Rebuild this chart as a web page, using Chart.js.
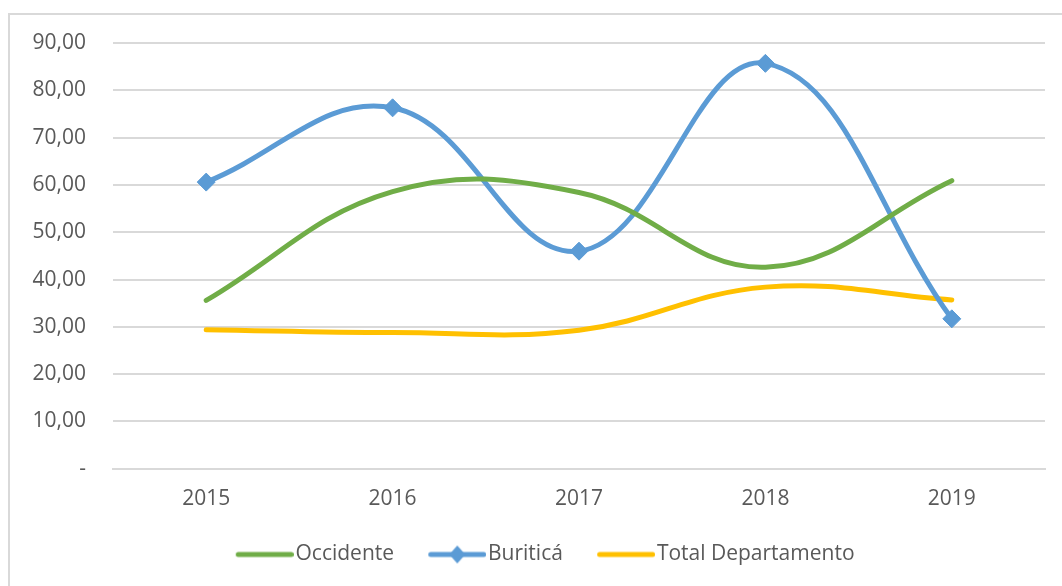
<!DOCTYPE html>
<html>
<head>
<meta charset="utf-8">
<script src="https://cdn.jsdelivr.net/npm/chart.js@4.4.1/dist/chart.umd.min.js"></script>
<style>
  html, body { margin: 0; padding: 0; background: #ffffff; }
  #wrap { position: relative; width: 1062px; height: 586px; }
</style>
</head>
<body>
<div id="wrap"><canvas id="c" width="1062" height="586"></canvas></div>
<script>
const categories = ['2015', '2016', '2017', '2018', '2019'];
const occidente = [35.6, 58.6, 58.4, 42.6, 60.9];
const buritica = [60.6, 76.3, 46.0, 85.7, 31.7];
const totalDepartamento = [29.4, 28.8, 29.3, 38.4, 35.7];
const seriesNames = ['Occidente', 'Buriticá', 'Total Departamento'];
const yTicks = [0, 10, 20, 30, 40, 50, 60, 70, 80, 90];

const GREEN = '#70AD47', BLUE = '#5B9BD5', YELLOW = '#FFC000';
const FONT = "'Open Sans', 'Liberation Sans', sans-serif";
const PSW = 82.5;          // legend box width used by Chart.js
const ICON_W = PSW + 18;   // icon image width (centred on box)

function legendIcon(color, diamond) {
  const c = document.createElement('canvas');
  c.width = ICON_W; c.height = 22;
  const g = c.getContext('2d');
  g.strokeStyle = color; g.lineWidth = 5; g.lineCap = 'round';
  const x0 = PSW - 40.5 + 2.5, x1 = PSW + 17.5 - 2.5;
  g.beginPath(); g.moveTo(x0, 11); g.lineTo(x1, 11); g.stroke();
  if (diamond) {
    const cx = (x0 + x1) / 2;
    g.fillStyle = color;
    g.beginPath(); g.moveTo(cx, 2); g.lineTo(cx + 8, 11); g.lineTo(cx, 20); g.lineTo(cx - 8, 11); g.closePath(); g.fill();
  }
  return c;
}

const borderPlugin = {
  id: 'frame',
  beforeDraw(chart) {
    const ctx = chart.ctx;
    ctx.save();
    ctx.strokeStyle = '#D9D9D9';
    ctx.lineWidth = 2;
    ctx.beginPath();
    ctx.moveTo(9, 586); ctx.lineTo(9, 14); ctx.lineTo(1062, 14);
    ctx.stroke();
    ctx.restore();
  }
};

new Chart(document.getElementById('c'), {
  type: 'line',
  data: {
    labels: categories,
    datasets: [
      { label: seriesNames[0], data: occidente, borderColor: GREEN, backgroundColor: GREEN,
        borderWidth: 5, pointRadius: 0, pointHoverRadius: 0, tension: 0.4, borderCapStyle: 'round' },
      { label: seriesNames[1], data: buritica, borderColor: BLUE, backgroundColor: BLUE,
        borderWidth: 5, pointRadius: 9, pointBorderWidth: 1, pointStyle: 'rectRot', tension: 0.4,
        borderCapStyle: 'round' },
      { label: seriesNames[2], data: totalDepartamento, borderColor: YELLOW, backgroundColor: YELLOW,
        borderWidth: 5, pointRadius: 0, pointHoverRadius: 0, tension: 0.4, borderCapStyle: 'round' }
    ]
  },
  options: {
    responsive: false,
    animation: false,
    layout: { padding: { left: 12, right: 17, top: 43, bottom: 11 } },
    plugins: {
      tooltip: { enabled: false },
      legend: {
        position: 'bottom',
        labels: {
          color: '#595959',
          font: { family: FONT, size: 21 },
          usePointStyle: true,
          pointStyleWidth: PSW,
          padding: 1,
          generateLabels(chart) {
            const icons = [legendIcon(GREEN, false), legendIcon(BLUE, true), legendIcon(YELLOW, false)];
            return chart.data.datasets.map((ds, i) => ({
              text: ds.label, fillStyle: ds.borderColor, strokeStyle: ds.borderColor,
              lineWidth: 0, pointStyle: icons[i], hidden: false, datasetIndex: i, fontColor: '#595959'
            }));
          }
        }
      }
    },
    scales: {
      x: {
        offset: true,
        afterFit(scale) { scale.height += 13; },
        grid: { display: false, drawTicks: false },
        border: { display: true, color: '#D9D9D9', width: 2 },
        ticks: { color: '#595959', font: { family: FONT, size: 21 }, padding: 18 }
      },
      y: {
        min: 0, max: 90,
        afterBuildTicks(scale) { scale.ticks = yTicks.map(v => ({ value: v })); },
        afterFit(scale) { scale.width = 101; },
        grid: { color: '#D9D9D9', lineWidth: 2, drawTicks: false },
        border: { display: false },
        ticks: {
          color: '#595959', font: { family: FONT, size: 21 }, padding: 27,
          callback: v => v === 0 ? '-' : v.toFixed(2).replace('.', ',')
        }
      }
    }
  },
  plugins: [borderPlugin]
});
</script>
</body>
</html>
